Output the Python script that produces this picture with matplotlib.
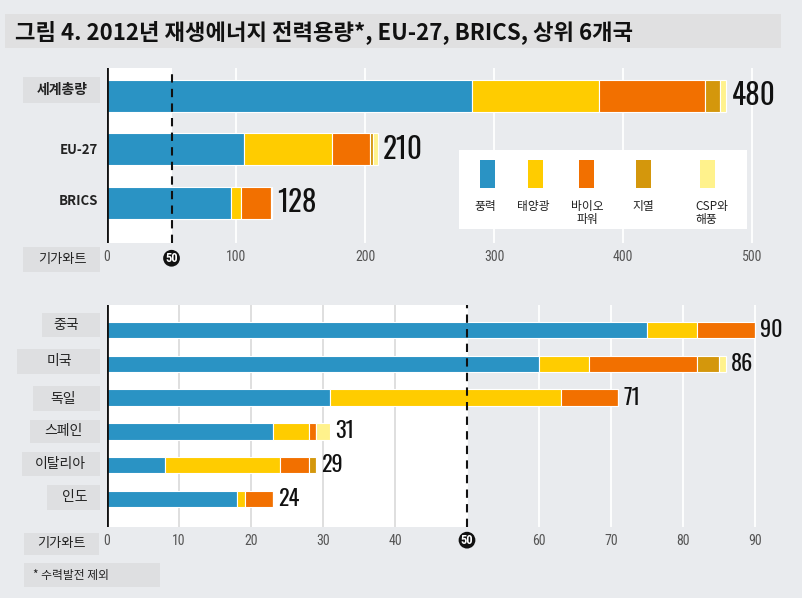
import matplotlib
matplotlib.use("Agg")
import matplotlib.pyplot as plt
from matplotlib.patches import Rectangle
import numpy as np

plt.rcParams['font.family'] = ['Noto Sans CJK KR', 'DejaVu Sans']

# ---------------- data ----------------
title = "그림 4. 2012년 재생에너지 전력용량*, EU-27, BRICS, 상위 6개국"
sources = ["풍력", "태양광", "바이오\n파워", "지열", "CSP와\n해풍"]
colors = ["#2a93c4", "#ffcc00", "#f27000", "#d4970c", "#fff28c"]

top_cats = ["세계총량", "EU-27", "BRICS"]
top_wind = [283, 106, 96]
top_solar = [98, 68, 8]
top_bio = [82, 30, 23]
top_geo = [12, 2, 1]
top_csp = [5, 4, 0]
top_totals = [480, 210, 128]
top_ticks = [0, 50, 100, 200, 300, 400, 500]

bot_cats = ["중국", "미국", "독일", "스페인", "이탈리아", "인도"]
bot_wind = [75, 60, 31, 23, 8, 18]
bot_solar = [7, 7, 32, 5, 16, 1.2]
bot_bio = [8, 15, 8, 1, 4, 3.8]
bot_geo = [0, 3, 0, 0, 1, 0]
bot_csp = [0, 1, 0, 2, 0, 0]
bot_totals = [90, 86, 71, 31, 29, 24]
bot_ticks = [0, 10, 20, 30, 40, 50, 60, 70, 80, 90]

unit_label = "기가와트"
footnote = "* 수력발전 제외"

W, H = 802, 598
BG = "#e9ebee"
BOX = "#dedfe1"
NUMFONT = ['Oswald', 'DejaVu Sans']
TICKFONT = ['Roboto Condensed', 'DejaVu Sans']
fig = plt.figure(figsize=(W / 100, H / 100), dpi=100, facecolor=BG)


def fx(px):
    return px / W


def fy(py):
    return 1 - py / H


def fbox(x0, y0, x1, y1, color=BOX):
    fig.patches.append(Rectangle((fx(x0), fy(y1)), fx(x1 - x0), (y1 - y0) / H,
                                 transform=fig.transFigure, facecolor=color,
                                 edgecolor='none', zorder=0))


# title
fbox(5, 14, 781, 48, "#e0e0e1")
fig.text(fx(15), fy(32), title, fontsize=16, fontweight='bold', color='#111111',
         ha='left', va='center')


def draw_panel(rect, cats, series, totals, xmax, ticks, grid, bar_h, ylim,
               val_fs, val_pad):
    ax = fig.add_axes(rect)
    ax.set_facecolor('none')
    ax.set_xlim(0, xmax)
    ax.set_ylim(*ylim)
    ax.axvspan(0, 50, color='white', zorder=0, lw=0)
    for g in grid:
        ax.axvline(g, color='#dcdcdc' if g < 50 else 'white', lw=1.3, zorder=0.5)
    y = np.arange(len(cats))
    left = np.zeros(len(cats))
    for vals, c in zip(series, colors):
        v = np.array(vals, dtype=float)
        ax.barh(y, v, left=left, height=bar_h, color=c, edgecolor='white',
                linewidth=0.8, zorder=2)
        left += v
    for yi, end, t in zip(y, left, totals):
        ax.text(end + val_pad, yi, str(t), fontsize=val_fs, fontweight='medium',
                family=NUMFONT, ha='left', va='center', color='#111111', zorder=3)
    ax.axvline(50, color='#111111', lw=1.5, ls=(0, (4, 3)), zorder=3)
    ax.axvline(0, color='#111111', lw=2, zorder=4)
    for s in ax.spines.values():
        s.set_visible(False)
    ax.set_yticks([])
    ax.set_xticks(ticks)
    labels = [("" if t == 50 else str(t)) for t in ticks]
    ax.set_xticklabels(labels, fontsize=10, color='#555555', family=TICKFONT)
    ax.tick_params(axis='x', length=0, pad=5)
    ax.text(50, 0.0, "50", transform=ax.get_xaxis_transform(), fontsize=9,
            fontweight='bold', family=TICKFONT, color='white', ha='center', va='top',
            bbox=dict(boxstyle='circle,pad=0.15', fc='#111111', ec='none'))
    return ax


# top panel
ax1 = draw_panel([fx(107), fy(243), fx(791 - 107), 175 / H], top_cats,
                 [top_wind, top_solar, top_bio, top_geo, top_csp], top_totals,
                 530, top_ticks, [100, 200, 300, 400, 500], 0.6, (2.75, -0.52),
                 21, 4)
ax1.texts[-1].set_y(-0.05)

# bottom panel
ax2 = draw_panel([fx(107), fy(527), fx(791 - 107), 222 / H], bot_cats,
                 [bot_wind, bot_solar, bot_bio, bot_geo, bot_csp], bot_totals,
                 95, bot_ticks, [10, 20, 30, 40, 50, 60, 70, 80, 90], 0.49,
                 (5.83, -0.74), 16, 0.7)
ax2.texts[-1].set_y(-0.03)

# top category labels
fbox(23, 77, 100, 103)
fig.text(fx(62), fy(90), top_cats[0], fontsize=10, fontweight='bold',
         ha='center', va='center', color='#222222')
fig.text(fx(98), fy(150), top_cats[1], fontsize=9.5, fontweight='bold',
         ha='right', va='center', color='#222222')
fig.text(fx(98), fy(201), top_cats[2], fontsize=9.5, fontweight='bold',
         ha='right', va='center', color='#222222')
fbox(23, 247, 100, 272)
fig.text(fx(62), fy(259), unit_label, fontsize=9.5, ha='center', va='center',
         color='#222222')

# bottom category labels
bot_boxes = [(42, 313, 100, 337), (17, 349, 100, 374), (33, 386, 100, 411),
             (30, 420, 100, 443), (22, 452, 100, 476), (47, 485, 100, 510)]
bot_text_x = [66, 59, 63, 63, 60, 75]
for cat, b, tx in zip(bot_cats, bot_boxes, bot_text_x):
    fbox(*b)
    fig.text(fx(tx), fy((b[1] + b[3]) / 2), cat, fontsize=10, ha='center',
             va='center', color='#222222')
fbox(24, 533, 99, 555)
fig.text(fx(61), fy(544), unit_label, fontsize=9.5, ha='center', va='center',
         color='#222222')
fbox(24, 563, 160, 587)
fig.text(fx(33), fy(575), footnote, fontsize=8.5, ha='left', va='center',
         color='#222222')

# legend box
fbox(459, 150, 747, 229, 'white')
fig.patches[-1].set_zorder(5)
patch_cx = [487, 535, 586, 643, 707]
label_cx = [485, 533, 587, 643, 695]
for name, c, pcx, lcx in zip(sources, colors, patch_cx, label_cx):
    fig.patches.append(Rectangle((fx(pcx - 7.5), fy(188)), fx(15), 28 / H,
                                 transform=fig.transFigure, facecolor=c,
                                 edgecolor='none', zorder=6))
    ha = 'left' if name.startswith("CSP") else 'center'
    fig.text(fx(lcx), fy(200), name, fontsize=8.5, ha=ha, va='top',
             color='#222222', linespacing=1.0, zorder=7)

fig.savefig("out.png", dpi=100, facecolor=BG)
